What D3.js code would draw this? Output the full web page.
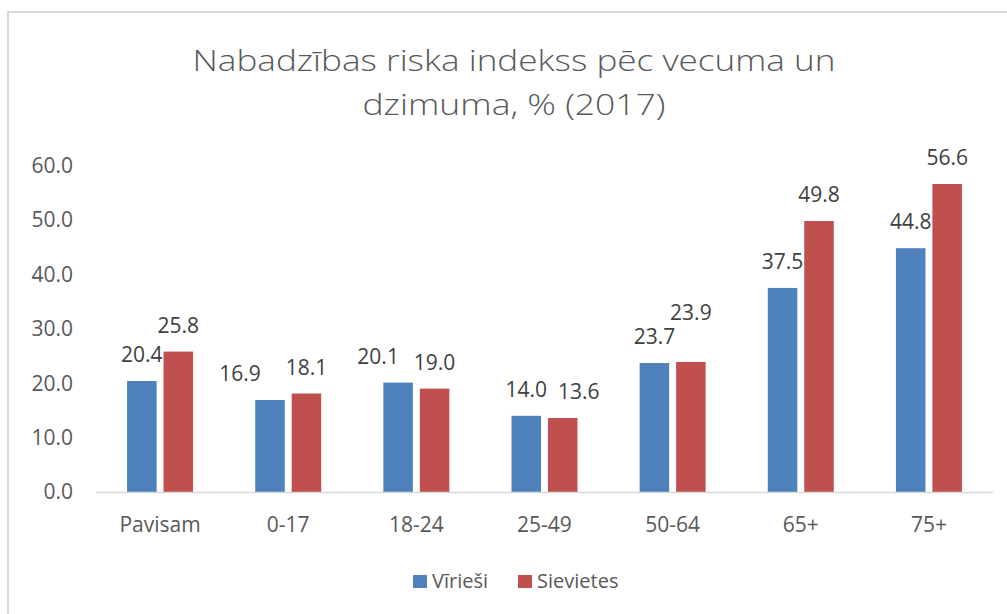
<!DOCTYPE html>
<html>

<head>
	<title>Nabadzības riska indekss</title>
	<meta charset="utf-8">
	<script src="https://cdn.jsdelivr.net/npm/d3@7/dist/d3.min.js"></script>
</head>

<style>
	body {
		margin: 0;
		background: #fff;
	}

	text {
		font-family: "Open Sans", sans-serif;
	}

	.frame {
		fill: none;
		stroke: #d9d9d9;
		stroke-width: 2px;
	}

	.title {
		fill: #595959;
		font-size: 29px;
		font-weight: 300;
	}

	.tick-label {
		fill: #595959;
		font-size: 21px;
	}

	.value-label {
		fill: #404040;
		font-size: 21px;
	}

	.legend-label {
		fill: #595959;
		font-size: 20px;
	}
</style>

<body>

	<svg width="1007" height="614"></svg>

	<script>
		var categories = ['Pavisam', '0-17', '18-24', '25-49', '50-64', '65+', '75+']
		var series = ['Vīrieši', 'Sievietes']
		var virieši = [20.4, 16.9, 20.1, 14.0, 23.7, 37.5, 44.8]
		var sievietes = [25.8, 18.1, 19.0, 13.6, 23.9, 49.8, 56.6]
		var yTicks = [0, 10, 20, 30, 40, 50, 60]
		var colors = ['#4f81bd', '#c0504d']

		// manual shifts of some value labels, as in the original chart
		var nudge = {
			'Vīrieši|0-17': [-30, 0],
			'Vīrieši|18-24': [-20, 0],
			'Sievietes|25-49': [16, 0],
			'Sievietes|50-64': [0, -23]
		}

		var values = [virieši, sievietes]
		var rows = []
		categories.forEach(function(c, i) {
			series.forEach(function(s, j) {
				rows.push({ cat: c, series: s, value: values[j][i] })
			})
		})

		var svg = d3.select('svg')

		svg.append('rect')
			.classed('frame', true)
			.attr('x', 8)
			.attr('y', 12)
			.attr('width', 1020)
			.attr('height', 640)

		// Title (the original is stretched horizontally)
		var titleLines = ['Nabadzības riska indekss pēc vecuma un', 'dzimuma, % (2017)']
		var titleWidths = [643, 303]
		svg.selectAll('text.title')
			.data(titleLines)
			.enter()
			.append('text')
			.classed('title', true)
			.attr('x', 514)
			.attr('y', function(d, i) {
				return 71 + i * 44
			})
			.attr('text-anchor', 'middle')
			.attr('textLength', function(d, i) {
				return titleWidths[i]
			})
			.attr('lengthAdjust', 'spacingAndGlyphs')
			.text(function(d) {
				return d
			})

		// Scales
		var x0 = d3.scaleBand()
			.domain(categories)
			.range([96, 993])

		var x1 = d3.scaleBand()
			.domain(series)
			.range([x0.bandwidth() / 2 - 33, x0.bandwidth() / 2 + 33])
			.paddingInner(0.19)

		var y = d3.scaleLinear()
			.domain([0, 60])
			.range([492, 165.5])

		var color = d3.scaleOrdinal()
			.domain(series)
			.range(colors)

		// Y axis labels
		svg.selectAll('text.y-label')
			.data(yTicks)
			.enter()
			.append('text')
			.classed('tick-label', true)
			.attr('x', 73)
			.attr('y', function(d) {
				return y(d)
			})
			.attr('dy', '0.35em')
			.attr('text-anchor', 'end')
			.text(function(d) {
				return d3.format('.1f')(d)
			})

		// Bars
		svg.selectAll('rect.bar')
			.data(rows)
			.enter()
			.append('rect')
			.classed('bar', true)
			.attr('x', function(d) {
				return x0(d.cat) + x1(d.series)
			})
			.attr('y', function(d) {
				return y(d.value)
			})
			.attr('width', x1.bandwidth())
			.attr('height', function(d) {
				return y(0) - y(d.value)
			})
			.attr('fill', function(d) {
				return color(d.series)
			})

		// Value labels
		svg.selectAll('text.value-label')
			.data(rows)
			.enter()
			.append('text')
			.classed('value-label', true)
			.attr('x', function(d) {
				var n = nudge[d.series + '|' + d.cat] || [0, 0]
				return x0(d.cat) + x1(d.series) + x1.bandwidth() / 2 + n[0]
			})
			.attr('y', function(d) {
				var n = nudge[d.series + '|' + d.cat] || [0, 0]
				return y(d.value) - 19 + n[1]
			})
			.attr('text-anchor', 'middle')
			.text(function(d) {
				return d3.format('.1f')(d.value)
			})

		// X axis line
		svg.append('line')
			.attr('x1', x0.range()[0])
			.attr('x2', x0.range()[1])
			.attr('y1', y(0) + 0.5)
			.attr('y2', y(0) + 0.5)
			.attr('stroke', '#d9d9d9')
			.attr('stroke-width', 1.5)

		// Category labels
		svg.selectAll('text.x-label')
			.data(categories)
			.enter()
			.append('text')
			.classed('tick-label', true)
			.attr('x', function(d) {
				return x0(d) + x0.bandwidth() / 2
			})
			.attr('y', 532)
			.attr('text-anchor', 'middle')
			.text(function(d) {
				return d
			})

		// Legend
		var legendX = [413, 518]
		var legend = svg.selectAll('g.legend')
			.data(series)
			.enter()
			.append('g')
			.classed('legend', true)
			.attr('transform', function(d, i) {
				return 'translate(' + legendX[i] + ',575)'
			})

		legend.append('rect')
			.attr('width', 14)
			.attr('height', 13)
			.attr('fill', function(d) {
				return color(d)
			})

		legend.append('text')
			.classed('legend-label', true)
			.attr('x', 19)
			.attr('y', 13)
			.text(function(d) {
				return d
			})
	</script>
</body>

</html>
